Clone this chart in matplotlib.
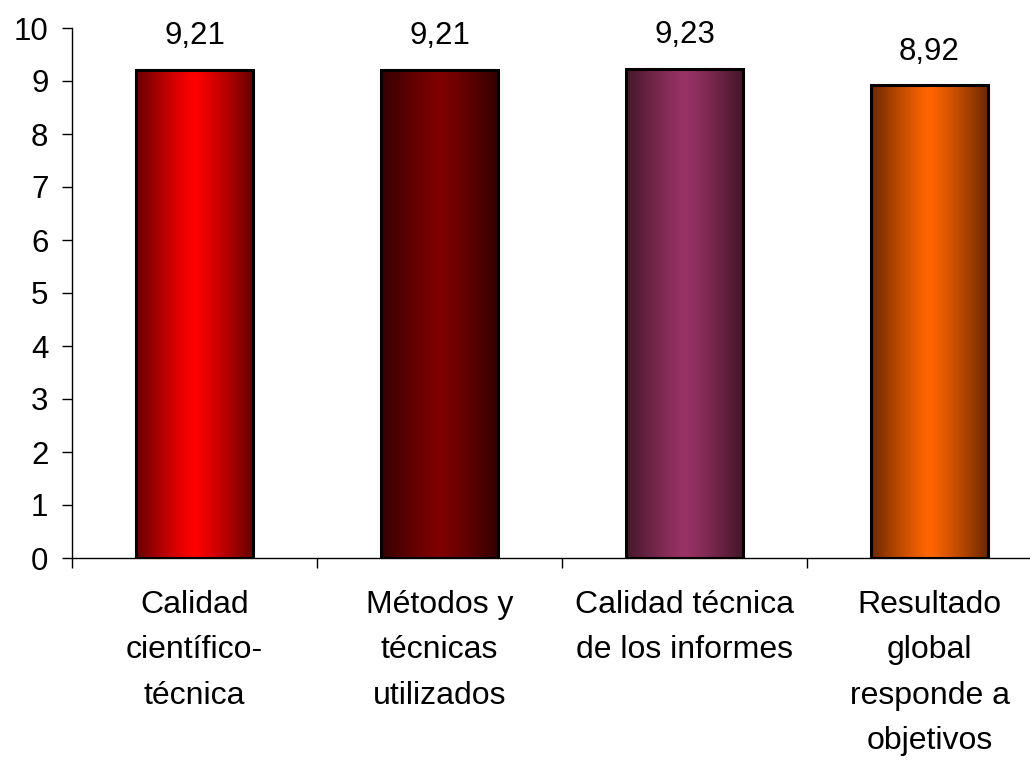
import numpy as np
import matplotlib
matplotlib.use("Agg")
import matplotlib.pyplot as plt
from matplotlib.colors import LinearSegmentedColormap

categories = ["Calidad\ncientífico-\ntécnica",
              "Métodos y\ntécnicas\nutilizados",
              "Calidad técnica\nde los informes",
              "Resultado\nglobal\nresponde a\nobjetivos"]
values = [9.21, 9.21, 9.23, 8.92]
value_labels = ["9,21", "9,21", "9,23", "8,92"]
center_colors = ["#ff0000", "#800000", "#993366", "#ff6600"]
edge_colors = ["#660000", "#330000", "#451729", "#6b2800"]
yticks = list(range(0, 11))

plt.rcParams['font.family'] = ['Liberation Sans', 'DejaVu Sans']

fig = plt.figure(figsize=(10.3, 7.6), dpi=100)
ax = fig.add_axes([72/1030, 1-558/760, (1052-72)/1030, (558-28)/760])

x = np.arange(len(values))
bars = ax.bar(x, values, width=0.475, facecolor='none', edgecolor='black',
              linewidth=2.2, zorder=3)

grad = np.abs(np.linspace(-1, 1, 256))[None, :]
for b, c0, c1 in zip(bars, center_colors, edge_colors):
    cmap = LinearSegmentedColormap.from_list('g', [c0, c1])
    bx, bw, bh = b.get_x(), b.get_width(), b.get_height()
    im = ax.imshow(grad ** 1.2, cmap=cmap, aspect='auto',
                   extent=[bx, bx + bw, 0, bh], zorder=2, vmin=0, vmax=1)
    im.set_clip_path(b)

for xi, v, lab in zip(x, values, value_labels):
    ax.text(xi, v + 0.48, lab, ha='center', va='baseline', fontsize=22.5)

ax.set_xlim(-0.5, len(values) - 0.5)
ax.set_ylim(0, 10)
ax.set_yticks(yticks)
ax.set_yticklabels([str(t) for t in yticks], fontsize=22.5)
ax.tick_params(axis='y', direction='out', length=7, width=1, pad=10)

ax.set_xticks(x)
ax.set_xticklabels(categories, fontsize=23, linespacing=1.67, va='top')
ax.set_xticks(np.arange(-0.5, len(values), 1), minor=True)
ax.tick_params(axis='x', which='major', length=0, pad=23)
ax.tick_params(axis='x', which='minor', direction='out', length=7, width=1)

for s in ['top', 'right']:
    ax.spines[s].set_visible(False)
for s in ['left', 'bottom']:
    ax.spines[s].set_linewidth(1)

fig.savefig('out.png', dpi=100)
